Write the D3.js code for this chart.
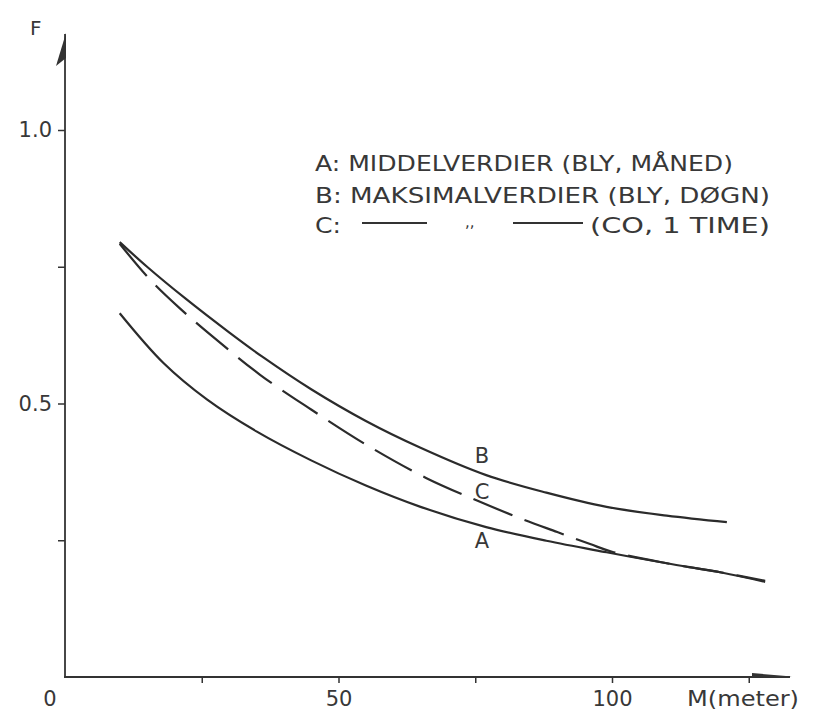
<!DOCTYPE html>
<html>
  <head>
    <meta charset="UTF-8">
    <script src="https://d3js.org/d3.v7.min.js"></script>
    <title>F mot M</title>
  </head>

  <body style="margin:0;background:#fff">
    <svg id="f1" height="712" width="814"/>
    <style>
      svg { display: block; }
      text { font-family: "DejaVu Sans", sans-serif; fill: #383838; }
    </style>
    <script>

    // curve A: middelverdier (bly, maaned)
    var aM = [10, 18, 26, 35, 45, 55, 65, 77, 88, 99, 110, 120, 128];
    var aF = [0.665, 0.574, 0.507, 0.449, 0.396, 0.350, 0.311, 0.274, 0.249, 0.228, 0.208, 0.191, 0.174];
    // curve B: maksimalverdier (bly, doegn)
    var bM = [10, 15, 22, 30, 36, 45, 55, 65, 77, 88, 99, 110, 121];
    var bF = [0.795, 0.750, 0.692, 0.630, 0.586, 0.526, 0.468, 0.419, 0.369, 0.337, 0.311, 0.295, 0.283];
    // curve C: maksimalverdier (CO, 1 time), dashed
    var cM = [10, 15.5, 21, 27.4, 35.6, 45, 55, 66, 75, 83, 90, 96, 100, 110, 120, 128];
    var cF = [0.792, 0.727, 0.674, 0.619, 0.553, 0.489, 0.425, 0.364, 0.324, 0.291, 0.265, 0.243, 0.229, 0.208, 0.191, 0.176];

    var xTicks = [25, 50, 75, 100, 125];
    var xLabels = [50, 100];
    var yTicks = [0.25, 0.5, 0.75, 1.0];
    var yLabels = [0.5, 1.0];

    var legendRows = ["A: MIDDELVERDIER (BLY, MÅNED)", "B: MAKSIMALVERDIER (BLY, DØGN)"];
    var curveKeys = ["B", "C", "A"];

    var svg = d3.select("#f1");
    var ink = "#333";

    var x = d3.scaleLinear().domain([0, 125]).range([65, 748.75]);
    var y = d3.scaleLinear().domain([0, 1]).range([677, 130]);

    // axes (ticks only, own lines with arrows)
    var xAxis = d3.axisBottom(x).tickValues(xTicks).tickSize(6)
      .tickFormat(function(d){ return xLabels.indexOf(d) >= 0 ? d : ""; });
    var gx = svg.append("g").attr("transform", "translate(0,677)").call(xAxis);
    gx.select(".domain").remove();
    gx.selectAll("line").attr("stroke", ink).attr("stroke-width", 1.5);
    gx.selectAll("text").attr("y", 29).attr("dy", 0).attr("font-size", 21)
      .attr("fill", ink).style("font-family", "DejaVu Sans");

    var yAxis = d3.axisLeft(y).tickValues(yTicks).tickSize(7).tickPadding(6)
      .tickFormat(function(d){ return yLabels.indexOf(d) >= 0 ? d3.format(".1f")(d) : ""; });
    var gy = svg.append("g").attr("transform", "translate(65,0)").call(yAxis);
    gy.select(".domain").remove();
    gy.selectAll("line").attr("stroke", ink).attr("stroke-width", 1.5);
    gy.selectAll("text").attr("font-size", 21).attr("fill", ink)
      .style("font-family", "DejaVu Sans");

    svg.append("line").attr("x1", 65).attr("y1", 678).attr("x2", 65).attr("y2", 34)
      .attr("stroke", ink).attr("stroke-width", 1.8);
    svg.append("line").attr("x1", 64).attr("y1", 677).attr("x2", 790).attr("y2", 677)
      .attr("stroke", ink).attr("stroke-width", 1.8);
    svg.append("path").attr("d", "M66,33 L56,66 L66,58 Z").attr("fill", ink);
    svg.append("path").attr("d", "M752,673 L792,676.5 L752,678 Z").attr("fill", ink);

    svg.append("text").attr("x", 50).attr("y", 706).attr("text-anchor", "middle")
      .attr("font-size", 21).text("0");
    svg.append("text").attr("x", 30).attr("y", 35).attr("font-size", 20).text("F");
    svg.append("text").attr("x", 687).attr("y", 706).attr("font-size", 21)
      .attr("textLength", 112).attr("lengthAdjust", "spacingAndGlyphs").text("M(meter)");

    // curves
    var line = d3.line()
      .x(function(d){ return x(d[0]); })
      .y(function(d){ return y(d[1]); })
      .curve(d3.curveCatmullRom.alpha(0.5));

    var curves = [
      {pts: d3.zip(aM, aF), dash: null},
      {pts: d3.zip(bM, bF), dash: null},
      {pts: d3.zip(cM, cF), dash: "42,13"}
    ];
    svg.selectAll(".curve").data(curves).enter().append("path")
      .attr("class", "curve")
      .attr("d", function(d){ return line(d.pts); })
      .attr("fill", "none")
      .attr("stroke", "#2b2b2b")
      .attr("stroke-width", 2.2)
      .attr("stroke-dasharray", function(d){ return d.dash; });

    // letters on the curves
    var keyY = [463, 499, 548];
    svg.selectAll(".key").data(curveKeys).enter().append("text")
      .attr("class", "key")
      .attr("x", 482)
      .attr("y", function(d, i){ return keyY[i]; })
      .attr("text-anchor", "middle")
      .attr("font-size", 21)
      .text(function(d){ return d; });

    // legend
    var legendWidths = [418, 455];
    svg.selectAll(".leg").data(legendRows).enter().append("text")
      .attr("class", "leg")
      .attr("x", 315)
      .attr("y", function(d, i){ return 171 + i * 32; })
      .attr("font-size", 22)
      .attr("textLength", function(d, i){ return legendWidths[i]; })
      .attr("lengthAdjust", "spacingAndGlyphs")
      .text(function(d){ return d; });

    svg.append("text").attr("x", 315).attr("y", 233).attr("font-size", 22)
      .attr("textLength", 26).attr("lengthAdjust", "spacingAndGlyphs").text("C:");
    svg.append("line").attr("x1", 362).attr("x2", 427).attr("y1", 223).attr("y2", 223)
      .attr("stroke", ink).attr("stroke-width", 1.8);
    svg.append("text").attr("x", 465).attr("y", 227).attr("font-size", 15).text(",,");
    svg.append("line").attr("x1", 513).attr("x2", 583).attr("y1", 223).attr("y2", 223)
      .attr("stroke", ink).attr("stroke-width", 1.8);
    svg.append("text").attr("x", 590).attr("y", 233).attr("font-size", 22)
      .attr("textLength", 180).attr("lengthAdjust", "spacingAndGlyphs").text("(CO, 1 TIME)");

    </script>
  </body>
</html>
